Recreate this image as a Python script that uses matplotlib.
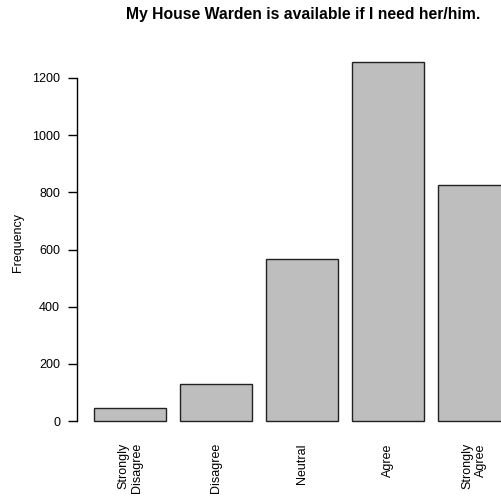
import matplotlib
matplotlib.use("Agg")
import matplotlib.pyplot as plt

categories = ["Strongly\nDisagree", "Disagree", "Neutral", "Agree", "Strongly\nAgree"]
values = [47, 130, 567, 1256, 826]
yticks = [0, 200, 400, 600, 800, 1000, 1200]
title = "My House Warden is available if I need her/him."

plt.rcParams['font.family'] = ['Liberation Sans', 'DejaVu Sans']

W, H = 502, 496
fig = plt.figure(figsize=(W / 100, H / 100), dpi=100)

# R-like barplot geometry: width 1, space 0.2
xmin, xmax = -0.032, 6.232
ymin, ymax = -63.3, 1306.7
px_left, px_right = 77.4, 526.5
px_top, px_bottom = 47.5, 439.1
ax = fig.add_axes([px_left / W, (H - px_bottom) / H,
                   (px_right - px_left) / W, (px_bottom - px_top) / H])
ax.set_xlim(xmin, xmax)
ax.set_ylim(ymin, ymax)

centers = [0.2 + 0.5 + i * 1.2 for i in range(len(values))]
ax.bar(centers, values, width=1.0, color="#bebebe", edgecolor="#222222",
       linewidth=1.0, clip_on=False)

for s in ["top", "right", "bottom"]:
    ax.spines[s].set_visible(False)
ax.spines["left"].set_bounds(0, 1200)
ax.spines["left"].set_linewidth(1.0)

ax.set_yticks(yticks)
ax.set_yticklabels([str(v) for v in yticks])
ax.tick_params(axis="y", length=6.5, width=1.0, pad=6.0, labelsize=9)

ax.set_xticks(centers)
ax.set_xticklabels(categories, rotation=90, ha="center", va="top",
                   multialignment="right", fontsize=9, linespacing=1.15)
ax.tick_params(axis="x", length=0, pad=2.9)

fig.text(18 / W, 1 - 243 / H, "Frequency", rotation=90, ha="center",
         va="center", fontsize=9)

fig.text(303.5 / W, 1 - 15 / H, title, ha="center",
         va="center", fontsize=11.35, fontweight="bold")

fig.savefig("out.png", dpi=100)
